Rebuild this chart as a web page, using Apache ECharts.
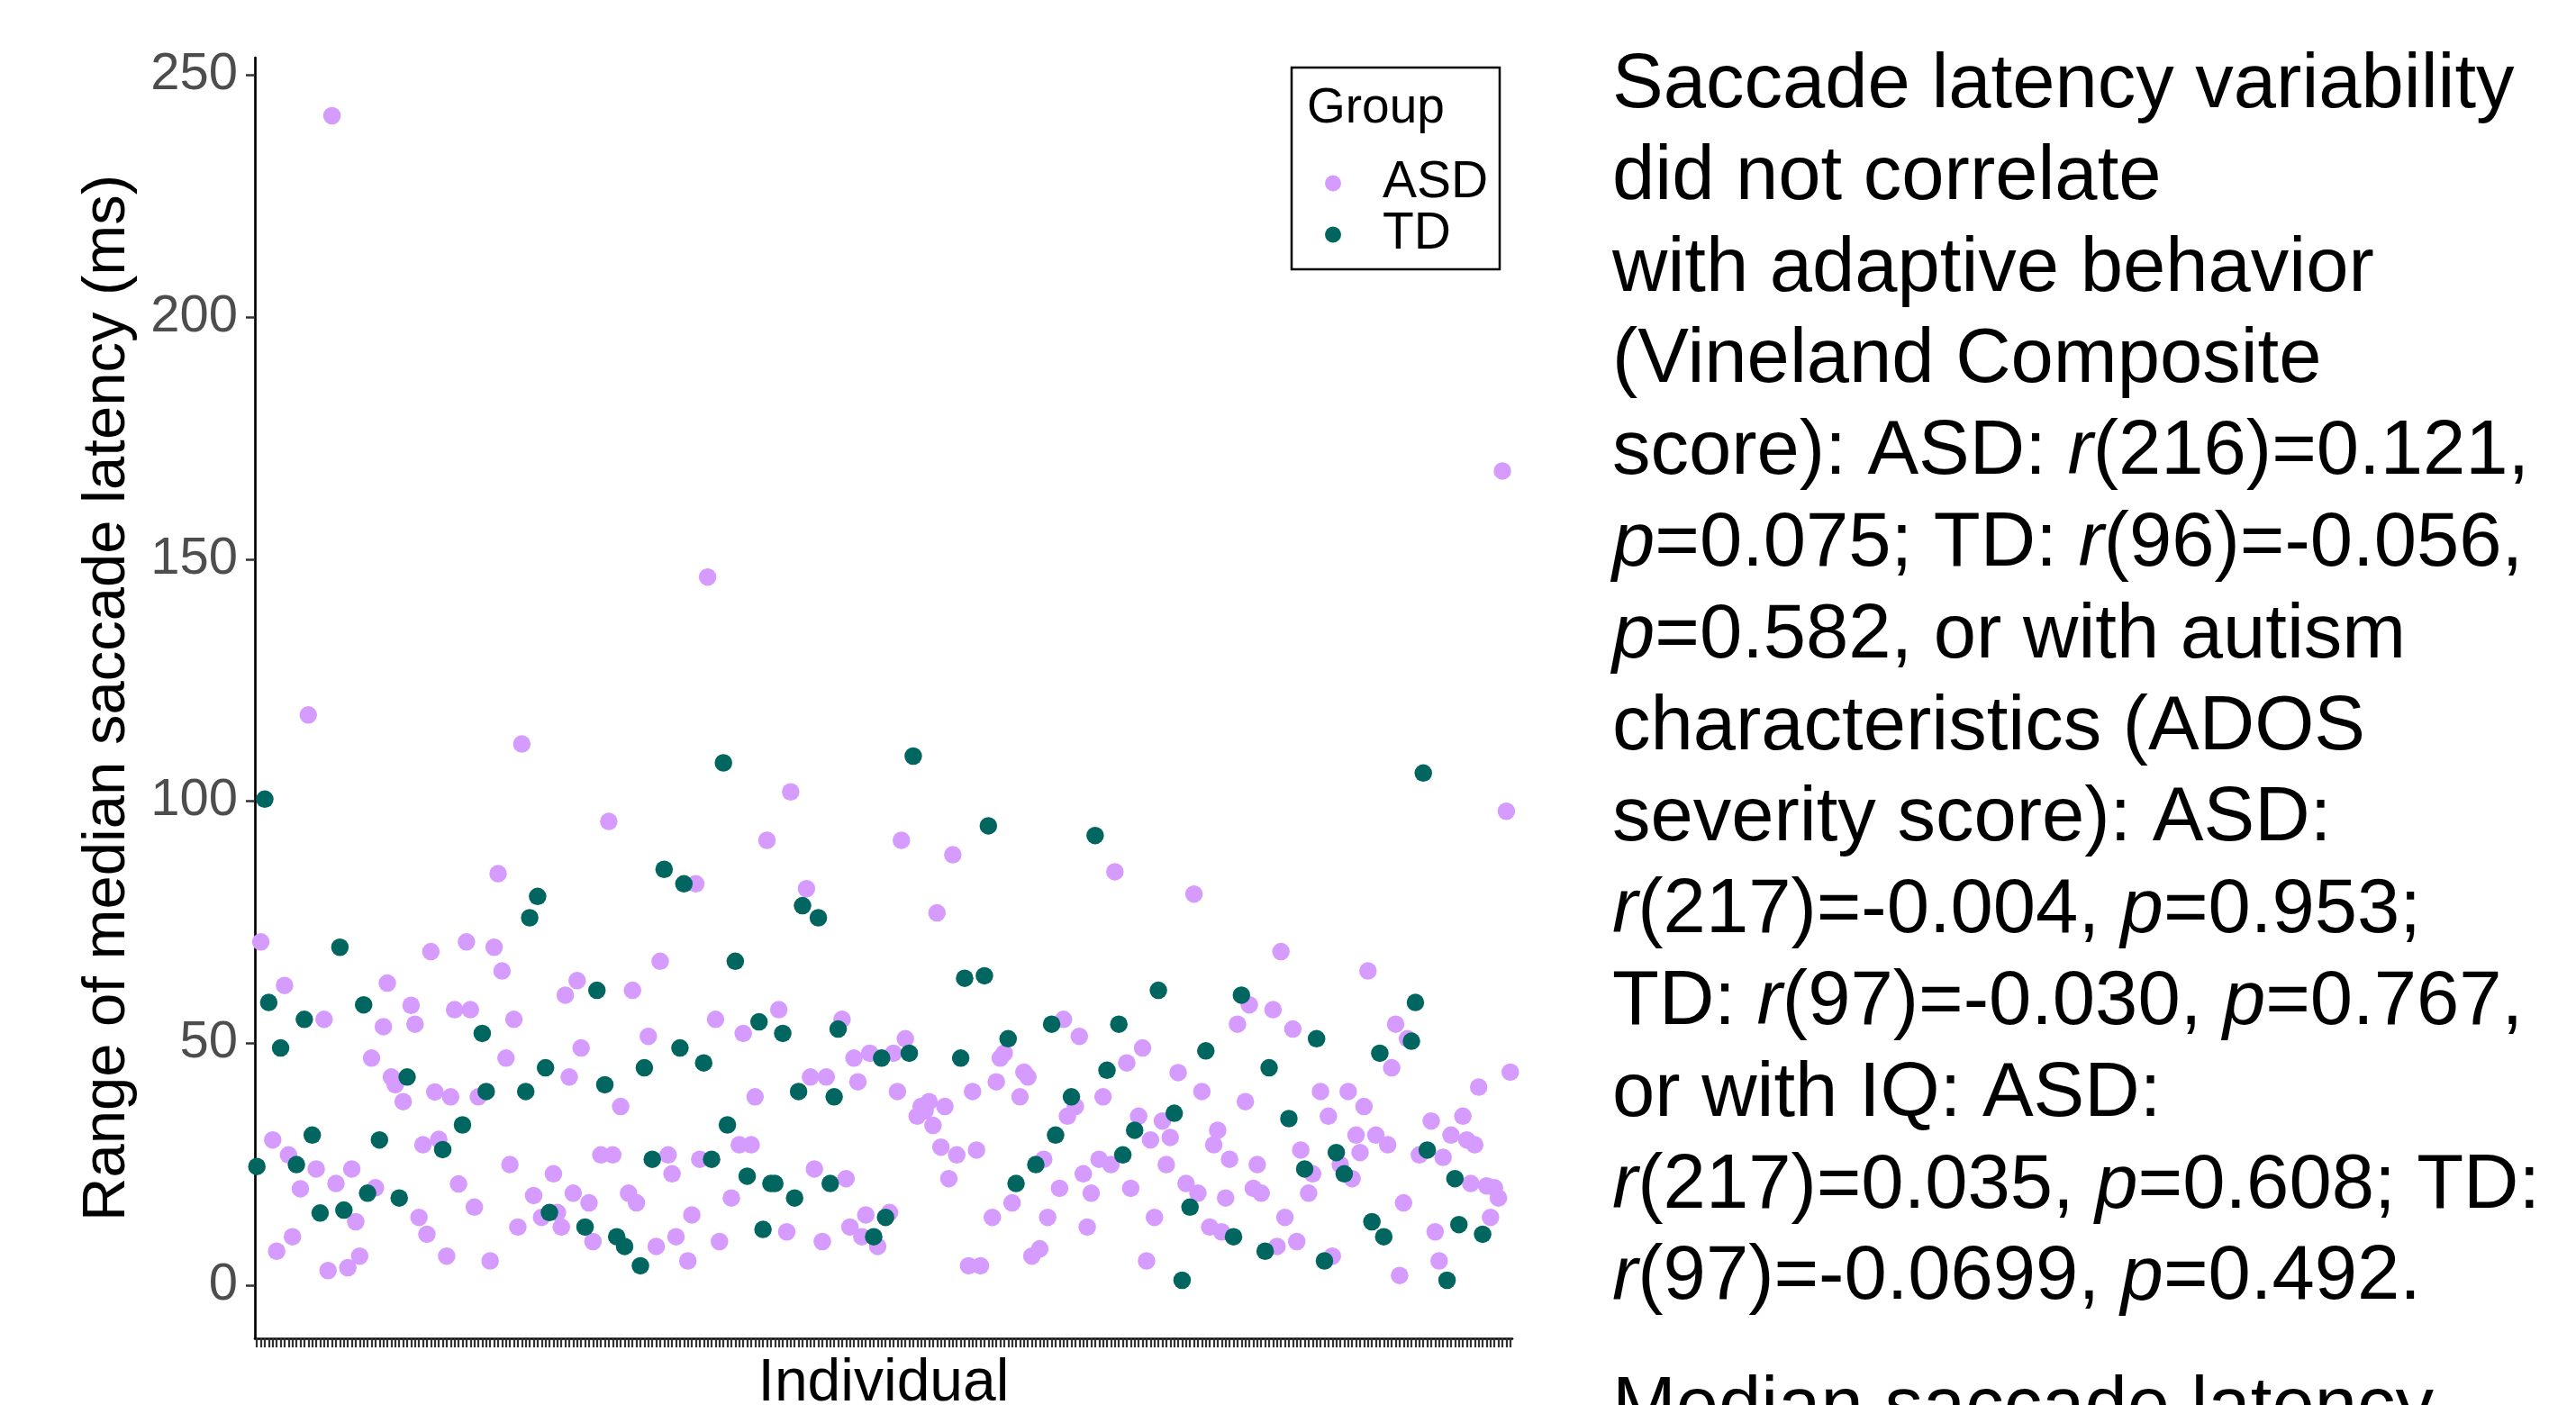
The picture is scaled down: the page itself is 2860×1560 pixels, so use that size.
<!DOCTYPE html>
<html>
<head>
<meta charset="utf-8">
<script src="https://cdn.jsdelivr.net/npm/echarts@6/dist/echarts.min.js"></script>
<style>
html,body{margin:0;padding:0;background:#ffffff;}
#chart{width:2860px;height:1560px;}
</style>
</head>
<body>
<div id="chart"></div>
<script>
// ---- data (one entry per individual, in x order) ----
const group = [
  'TD','ASD','TD','TD','ASD','ASD','TD','ASD','ASD','ASD',
  'TD','ASD','TD','ASD','TD','ASD','TD','ASD','ASD','ASD',
  'ASD','TD','TD','ASD','ASD','ASD','ASD','TD','TD','ASD',
  'ASD','TD','ASD','ASD','ASD','ASD','TD','ASD','TD','ASD',
  'ASD','ASD','ASD','ASD','ASD','ASD','ASD','TD','ASD','ASD',
  'ASD','ASD','TD','ASD','ASD','ASD','ASD','TD','TD','ASD',
  'ASD','ASD','ASD','ASD','ASD','ASD','ASD','ASD','TD','TD',
  'ASD','TD','ASD','TD','TD','ASD','ASD','ASD','ASD','ASD',
  'ASD','ASD','ASD','TD','ASD','ASD','TD','ASD','TD','ASD',
  'ASD','TD','ASD','TD','ASD','ASD','ASD','TD','TD','ASD',
  'TD','ASD','ASD','TD','ASD','ASD','ASD','TD','TD','ASD',
  'ASD','ASD','ASD','TD','ASD','TD','ASD','ASD','TD','TD',
  'ASD','TD','ASD','ASD','TD','ASD','ASD','TD','TD','ASD',
  'TD','TD','ASD','TD','ASD','ASD','TD','TD','TD','ASD',
  'ASD','ASD','TD','ASD','ASD','TD','TD','TD','ASD','ASD',
  'ASD','ASD','ASD','ASD','ASD','ASD','TD','ASD','TD','TD',
  'ASD','ASD','ASD','ASD','ASD','TD','TD','ASD','ASD','ASD',
  'ASD','ASD','ASD','ASD','ASD','ASD','ASD','ASD','TD','TD',
  'ASD','ASD','ASD','ASD','TD','TD','ASD','ASD','ASD','ASD',
  'TD','ASD','TD','ASD','ASD','ASD','ASD','TD','ASD','ASD',
  'ASD','TD','TD','ASD','ASD','ASD','TD','ASD','ASD','ASD',
  'ASD','ASD','TD','ASD','ASD','TD','ASD','ASD','TD','TD',
  'ASD','ASD','TD','ASD','ASD','ASD','ASD','ASD','TD','ASD',
  'ASD','ASD','TD','ASD','TD','ASD','TD','ASD','ASD','ASD',
  'TD','ASD','ASD','ASD','ASD','ASD','ASD','TD','ASD','TD',
  'ASD','ASD','ASD','ASD','ASD','TD','TD','ASD','ASD','ASD',
  'ASD','TD','ASD','ASD','ASD','TD','ASD','ASD','TD','ASD',
  'TD','ASD','ASD','TD','ASD','TD','ASD','ASD','ASD','ASD',
  'ASD','ASD','TD','ASD','TD','TD','ASD','ASD','ASD','ASD',
  'ASD','ASD','TD','TD','ASD','TD','TD','ASD','ASD','ASD',
  'ASD','TD','ASD','TD','TD','ASD','ASD','ASD','ASD','ASD',
  'TD','ASD','ASD','ASD','ASD','ASD','ASD','ASD'
];
const rangeMs = [
  24.5,70.9,100.4,58.4,30.0,7.0,49.0,61.9,26.9,10.0,
  24.9,19.9,54.9,117.8,31.0,24.0,14.9,54.9,3.0,241.6,
  21.0,69.8,15.5,3.6,24.0,13.1,6.0,57.9,19.0,46.9,
  20.1,30.0,53.4,62.4,43.0,41.4,18.0,37.9,43.0,57.8,
  53.9,14.0,29.0,10.5,68.9,39.9,30.1,28.0,6.0,38.9,
  56.9,20.9,33.1,70.9,56.9,16.1,38.9,52.0,40.0,5.0,
  69.8,85.0,64.9,46.9,24.9,54.9,12.0,111.8,40.0,75.9,
  18.5,80.3,14.0,44.9,15.0,23.0,15.0,12.0,59.9,43.0,
  19.0,62.9,49.0,12.0,17.0,9.0,60.9,26.9,41.4,95.8,
  26.9,10.0,36.9,8.0,19.0,60.9,17.0,4.0,44.9,51.4,
  26.0,8.0,66.9,85.9,26.9,23.0,10.0,49.0,82.9,5.0,
  14.5,82.9,26.0,45.9,146.3,26.0,54.9,9.0,107.9,33.1,
  18.0,66.9,29.0,52.0,22.5,29.0,38.9,54.4,11.5,91.9,
  21.0,21.0,56.9,52.0,11.0,101.9,18.0,40.0,78.4,81.9,
  43.0,24.0,75.9,9.0,43.0,21.0,38.9,52.9,54.9,22.0,
  12.0,46.9,42.0,10.0,14.5,47.9,10.0,8.0,46.9,14.0,
  15.0,47.9,40.0,91.9,50.9,47.9,109.3,34.9,36.9,36.0,
  37.9,33.0,76.9,28.5,36.9,22.0,88.9,26.9,46.9,63.4,
  4.0,40.0,27.9,4.0,63.9,94.9,14.0,42.0,46.9,47.9,
  50.9,17.0,21.0,38.9,44.0,43.0,6.0,24.9,7.5,26.0,
  14.0,53.9,31.0,20.0,54.9,34.9,38.9,36.9,51.4,23.0,
  12.0,19.0,92.9,26.0,38.9,44.4,24.9,85.4,53.9,26.9,
  45.9,20.0,32.0,34.9,49.0,5.0,30.0,14.0,60.9,33.9,
  24.9,30.5,35.5,43.9,1.0,21.0,16.1,80.8,19.0,40.0,
  48.4,12.0,29.0,32.0,11.0,18.0,26.0,10.0,53.9,59.9,
  37.9,57.9,20.0,24.9,19.0,7.0,44.9,56.9,8.0,68.9,
  14.0,34.4,52.9,9.0,27.9,24.0,19.0,23.0,50.9,40.0,
  5.0,34.9,6.0,27.4,24.9,23.0,40.0,22.0,31.0,27.4,
  36.9,64.9,13.1,31.0,47.9,10.0,29.0,44.9,53.9,2.0,
  17.0,50.9,50.4,58.4,26.9,105.8,27.9,33.9,11.0,5.0,
  26.4,1.0,31.0,22.0,12.5,34.9,30.0,21.0,29.0,40.9,
  10.5,20.5,14.0,20.1,18.0,168.2,97.9,44.0
];
const individuals = group.map((g, i) => String(i + 1));
const groupNames = ['ASD', 'TD'];
const yTickValues = [0, 50, 100, 150, 200, 250];
const yRange = [-11.0, 253.6];
const sideText = [
  'Saccade latency variability',
  'did not correlate',
  'with adaptive behavior',
  '(Vineland Composite',
  'score): ASD: {i|r}(216)=0.121,',
  '{i|p}=0.075; TD: {i|r}(96)=-0.056,',
  '{i|p}=0.582, or with autism',
  'characteristics (ADOS',
  'severity score): ASD:',
  '{i|r}(217)=-0.004, {i|p}=0.953;',
  'TD: {i|r}(97)=-0.030, {i|p}=0.767,',
  'or with IQ: ASD:',
  '{i|r}(217)=0.035, {i|p}=0.608; TD:',
  '{i|r}(97)=-0.0699, {i|p}=0.492.'
];
const nextParagraph = 'Median saccade latency';

// ---- styling ----
const FONT = '"Liberation Sans", Arial, Helvetica, sans-serif';
const colors = { ASD: '#D59BFE', TD: '#00665F' };

const textLineHeight = 101.8;
const textFirstBaseline = 125;
const textSize = 85;
const midOffset = 0.3465 * textSize;
const legendSize = 57;

const graphics = [
  { type: 'rect', z: 1, shape: { x: 1434, y: 75, width: 231, height: 224 },
    style: { fill: '#ffffff', stroke: '#000000', lineWidth: 2.5 } },
  { type: 'text', z: 5, style: { text: 'Group', x: 1451, y: 140 - 0.3465 * 55,
    font: '55px ' + FONT, fill: '#000000', align: 'left', verticalAlign: 'middle' } }
];
sideText.forEach((line, k) => {
  graphics.push({
    type: 'text', z: 5,
    style: {
      text: line, x: 1790, y: textFirstBaseline + k * textLineHeight - midOffset,
      font: textSize + 'px ' + FONT, fill: '#000000', align: 'left', verticalAlign: 'middle',
      rich: { i: { font: 'italic ' + textSize + 'px ' + FONT, fill: '#000000' } }
    }
  });
});
graphics.push({
  type: 'text', z: 5,
  style: { text: nextParagraph, x: 1790, y: 1594 - midOffset, font: textSize + 'px ' + FONT,
    fill: '#000000', align: 'left', verticalAlign: 'middle' }
});

const chart = echarts.init(document.getElementById('chart'), null, { renderer: 'canvas' });
chart.setOption({
  animation: false,
  backgroundColor: '#ffffff',
  textStyle: { fontFamily: FONT },
  grid: { left: 283, top: 64, width: 1396, height: 1422, outerBoundsMode: 'none' },
  xAxis: {
    type: 'category',
    data: individuals,
    boundaryGap: true,
    name: 'Individual',
    nameLocation: 'middle',
    nameGap: 18,
    nameTextStyle: { fontSize: 66, color: '#000000', fontFamily: FONT },
    axisLine: { onZero: false, lineStyle: { color: '#000000', width: 2.7 } },
    axisTick: { show: true, interval: 0, alignWithLabel: true, length: 10,
      lineStyle: { color: '#333333', width: 2.2 } },
    axisLabel: { show: false },
    splitLine: { show: false }
  },
  yAxis: {
    type: 'value',
    min: yRange[0],
    max: yRange[1],
    name: 'Range of median saccade latency (ms)',
    nameLocation: 'middle',
    nameGap: 130,
    nameTextStyle: { fontSize: 67, color: '#000000', fontFamily: FONT },
    axisLine: { show: true, lineStyle: { color: '#000000', width: 2.7 } },
    axisTick: { show: true, length: 10, customValues: yTickValues,
      lineStyle: { color: '#333333', width: 2.5 } },
    axisLabel: { show: true, customValues: yTickValues, margin: 19,
      fontSize: 58, color: '#4D4D4D', fontFamily: FONT, padding: [8, 0, 0, 0] },
    splitLine: { show: false }
  },
  legend: {
    data: groupNames,
    orient: 'vertical',
    left: 1471,
    top: 175,
    padding: 0,
    itemWidth: 18,
    itemHeight: 18,
    itemGap: 0,
    icon: 'circle',
    selectedMode: false,
    textStyle: { fontSize: legendSize, color: '#000000', fontFamily: FONT, lineHeight: 56,
      padding: [0, 0, 0, 41] }
  },
  graphic: graphics,
  series: groupNames.map((g, k) => ({
    name: g,
    type: 'scatter',
    symbol: 'circle',
    symbolSize: 19.5,
    clip: true,
    z: 2 + k,
    itemStyle: { color: colors[g], opacity: 1 },
    emphasis: { disabled: true },
    data: individuals.map((c, i) => group[i] === g ? [c, rangeMs[i]] : null).filter(d => d !== null)
  }))
});
</script>
</body>
</html>
